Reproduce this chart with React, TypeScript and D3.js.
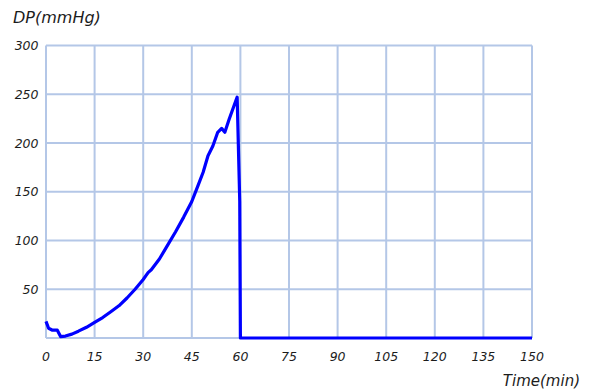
import React, { useEffect, useRef } from 'react';
import * as d3 from 'd3';

// Time (min) and diastolic pressure (mmHg)
const timeMin = [0, 0.8, 2, 3.5, 4.5, 6, 8, 10, 12.5, 15, 17.5, 20, 22.5, 25, 27.5, 30, 31.5, 32.5, 35, 37.5, 40, 42.5, 45, 47, 48.5, 50, 51.5, 53, 54.2, 55.2, 56.5, 58, 59, 59.8, 60, 75, 90, 105, 120, 135, 150];
const dpValues = [17, 10, 8, 8, 1.5, 2, 4, 7, 11, 16, 21, 27, 33, 41, 50, 60, 67, 70, 81, 95, 109, 124, 140, 157, 170, 187, 197, 211, 215, 211, 224, 238, 247, 140, 0, 0, 0, 0, 0, 0, 0];

const xTicks = [0, 15, 30, 45, 60, 75, 90, 105, 120, 135, 150];
const yTicks = [50, 100, 150, 200, 250, 300];

const W = 594;
const H = 391;

const App: React.FC = () => {
  const ref = useRef<SVGSVGElement | null>(null);

  useEffect(() => {
    if (!ref.current) return;
    const svg = d3.select(ref.current);
    svg.selectAll('*').remove();

    const x = d3.scaleLinear().domain([0, 150]).range([46, 532]);
    const y = d3.scaleLinear().domain([0, 300]).range([338, 45.5]);

    const grid = svg.append('g').attr('stroke', '#b4c7e7').attr('stroke-width', 2);
    // vertical grid
    grid.selectAll('line.v')
      .data(xTicks)
      .enter()
      .append('line')
      .attr('x1', (d) => x(d))
      .attr('x2', (d) => x(d))
      .attr('y1', y(300))
      .attr('y2', y(0));
    // horizontal grid, including the baseline
    grid.selectAll('line.h')
      .data([0, ...yTicks])
      .enter()
      .append('line')
      .attr('x1', x(0))
      .attr('x2', x(150))
      .attr('y1', (d) => y(d))
      .attr('y2', (d) => y(d));

    const labelFont = '"DejaVu Sans", Verdana, sans-serif';
    const ink = '#1c1c1c';

    svg.append('g')
      .selectAll('text')
      .data(yTicks)
      .enter()
      .append('text')
      .attr('x', 38.5)
      .attr('y', (d) => y(d) + 4.5)
      .attr('text-anchor', 'end')
      .style('font-family', labelFont)
      .style('font-style', 'italic')
      .style('font-size', '12.5px')
      .style('fill', ink)
      .text((d) => d);

    svg.append('g')
      .selectAll('text')
      .data(xTicks)
      .enter()
      .append('text')
      .attr('x', (d) => x(d))
      .attr('y', 361)
      .attr('text-anchor', 'middle')
      .style('font-family', labelFont)
      .style('font-style', 'italic')
      .style('font-size', '12.5px')
      .style('fill', ink)
      .text((d) => d);

    const line = d3.line<number>()
      .x((_, i) => x(timeMin[i]))
      .y((d) => y(d));

    svg.append('path')
      .datum(dpValues)
      .attr('d', line)
      .attr('fill', 'none')
      .attr('stroke', '#0000ff')
      .attr('stroke-width', 3.2)
      .attr('stroke-linejoin', 'round');

    svg.append('text')
      .attr('x', 13)
      .attr('y', 23)
      .style('font-family', labelFont)
      .style('font-style', 'italic')
      .style('font-size', '16px')
      .style('fill', ink)
      .text('DP(mmHg)');

    svg.append('text')
      .attr('x', 580)
      .attr('y', 386)
      .attr('text-anchor', 'end')
      .style('font-family', labelFont)
      .style('font-style', 'italic')
      .style('font-size', '15px')
      .style('fill', ink)
      .text('Time(min)');
  }, []);

  return (
    <svg
      ref={ref}
      width={W}
      height={H}
      style={{ position: 'absolute', left: 0, top: 0, background: '#fff' }}
    />
  );
};

export default App;
